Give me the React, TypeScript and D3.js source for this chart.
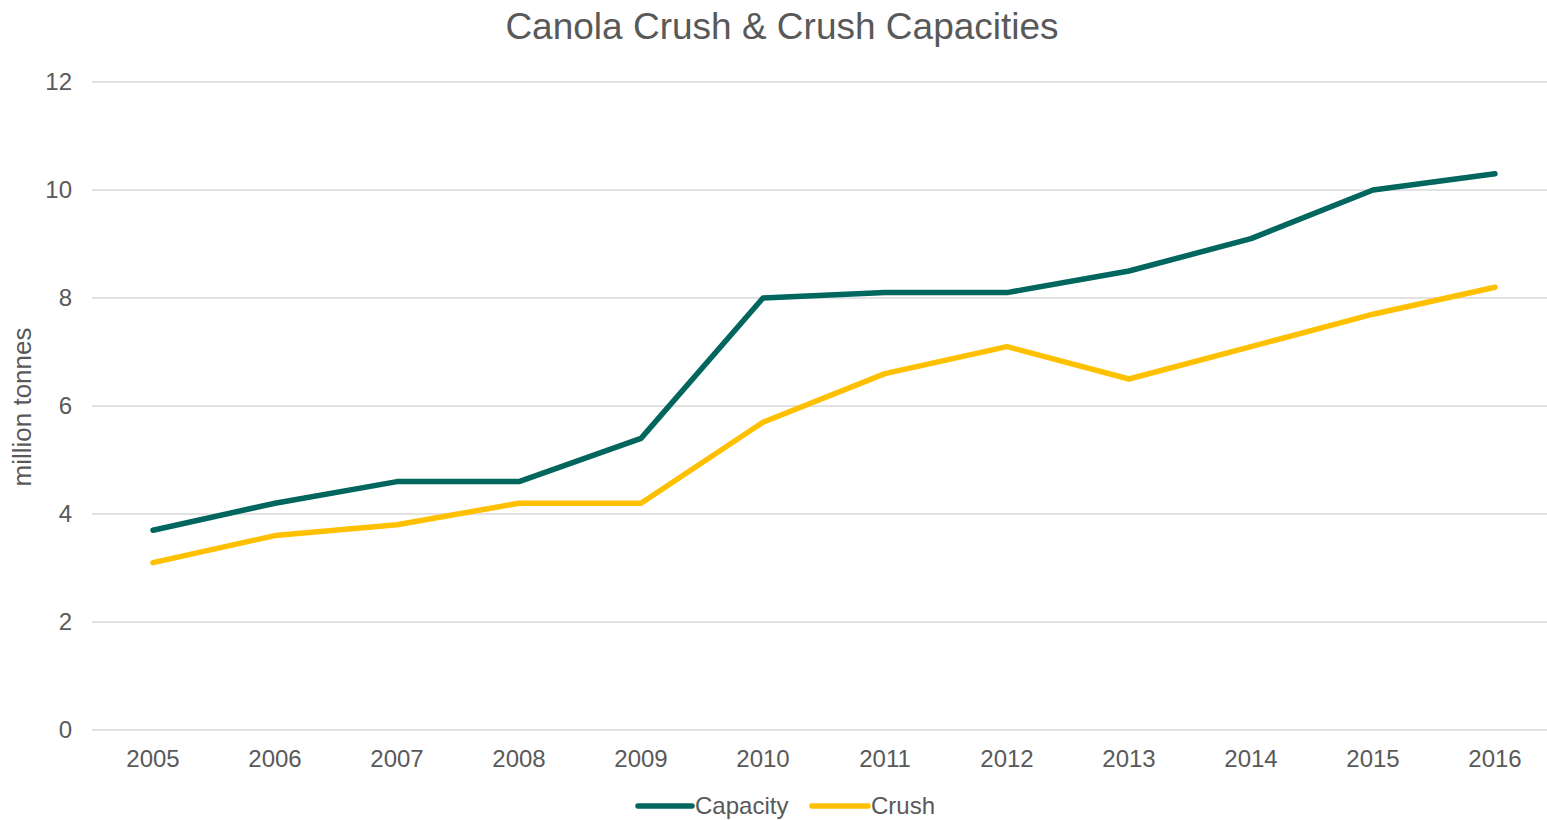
import React from 'react'
import * as d3 from 'd3'

const years = ['2005', '2006', '2007', '2008', '2009', '2010', '2011', '2012', '2013', '2014', '2015', '2016']
const capacity = [3.7, 4.2, 4.6, 4.6, 5.4, 8.0, 8.1, 8.1, 8.5, 9.1, 10.0, 10.3]
const crush = [3.1, 3.6, 3.8, 4.2, 4.2, 5.7, 6.6, 7.1, 6.5, 7.1, 7.7, 8.2]
const yTicks = [0, 2, 4, 6, 8, 10, 12]

const series = [
    { name: 'Capacity', values: capacity, color: '#00665E' },
    { name: 'Crush', values: crush, color: '#FFC000' }
]

function App() {
    const width = 1547
    const height = 820
    const font = '"Liberation Sans", Arial, sans-serif'
    const textColor = '#595959'

    const x = d3.scaleBand<string>().domain(years).range([92, 1556])
    const y = d3.scaleLinear().domain([0, 12]).range([730, 82])
    const cx = (d: string) => (x(d) || 0) + x.bandwidth() / 2

    const line = d3.line<number>()
        .x((_, i) => cx(years[i]))
        .y(d => y(d))

    const legend = [
        { x0: 638, x1: 692, tx: 695 },
        { x0: 812, x1: 868, tx: 871 }
    ]

    return (
        <svg width={width} height={height} style={{ position: 'absolute', left: 0, top: 0 }}>
            <rect width={width} height={height} fill="#fff" />
            <text x={782} y={39} textAnchor="middle" fontFamily={font} fontSize={37} fill={textColor}>
                Canola Crush &amp; Crush Capacities
            </text>
            <g>
                {yTicks.map(t => (
                    <g key={t}>
                        <line x1={92} x2={width} y1={y(t)} y2={y(t)} stroke="#d9d9d9" strokeWidth={1.5} />
                        <text x={72} y={y(t)} dy="0.35em" textAnchor="end" fontFamily={font} fontSize={24} fill={textColor}>
                            {t}
                        </text>
                    </g>
                ))}
            </g>
            <g>
                {years.map(d => (
                    <text key={d} x={cx(d)} y={767} textAnchor="middle" fontFamily={font} fontSize={24} fill={textColor}>
                        {d}
                    </text>
                ))}
            </g>
            <text transform="translate(31,407) rotate(-90)" textAnchor="middle" fontFamily={font} fontSize={26} fill={textColor}>
                million tonnes
            </text>
            {series.map(s => (
                <path key={s.name} d={line(s.values) || ''} fill="none" stroke={s.color} strokeWidth={5.5}
                    strokeLinejoin="round" strokeLinecap="round" />
            ))}
            {series.map((s, i) => (
                <g key={s.name}>
                    <line x1={legend[i].x0} x2={legend[i].x1} y1={806} y2={806} stroke={s.color} strokeWidth={5.5} strokeLinecap="round" />
                    <text x={legend[i].tx} y={806} dy="0.35em" fontFamily={font} fontSize={24} fill={textColor}>
                        {s.name}
                    </text>
                </g>
            ))}
        </svg>
    )
}

export default App
